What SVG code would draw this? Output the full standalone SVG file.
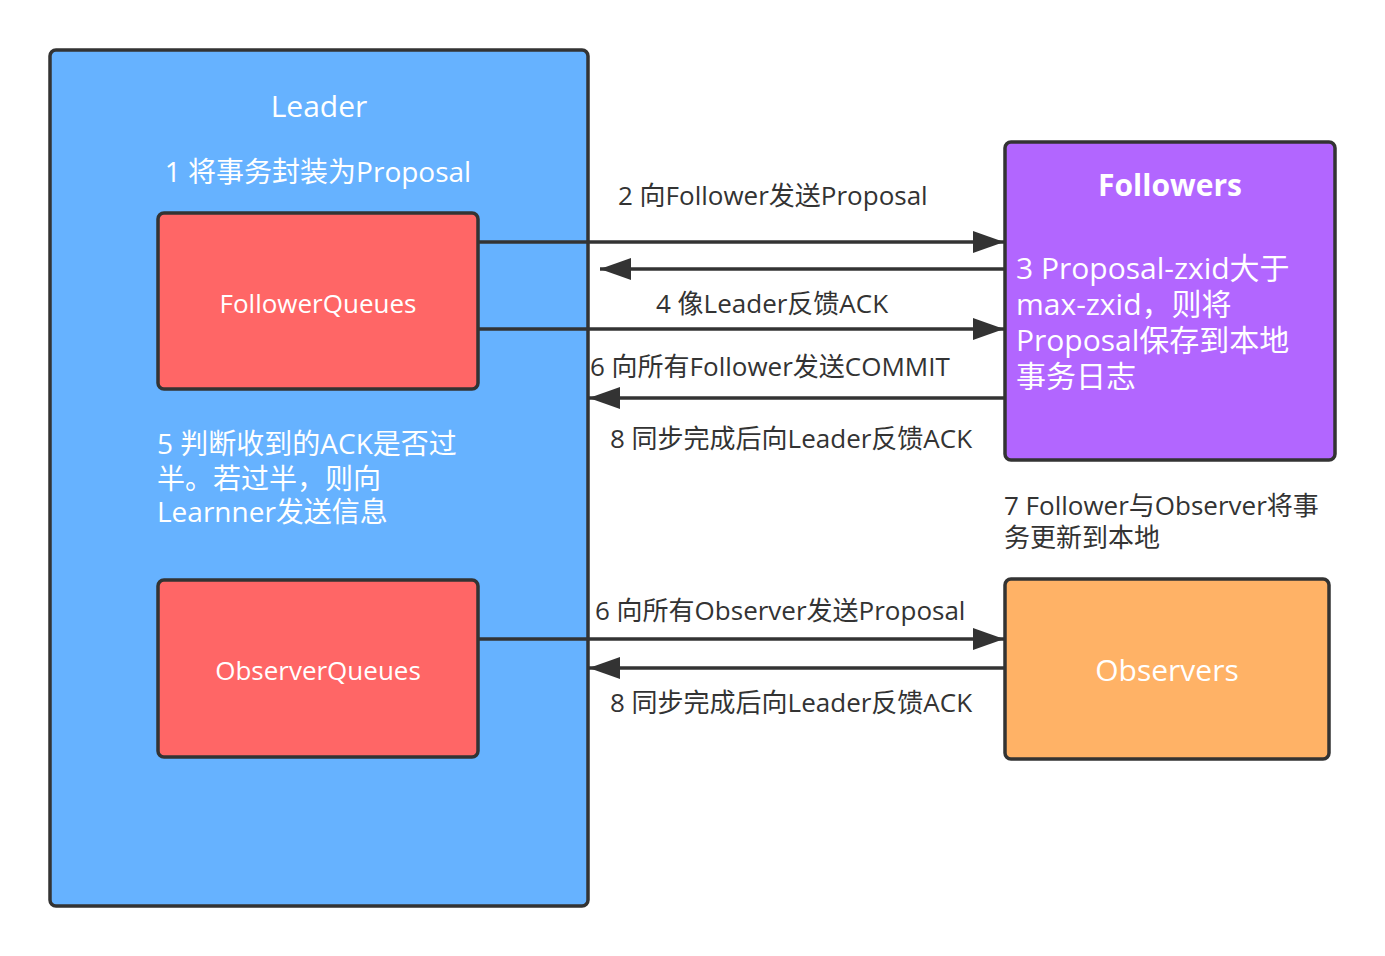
<svg xmlns="http://www.w3.org/2000/svg" width="1385" height="956" viewBox="0 0 1385 956">
<style>
text{font-family:"Open Sans","Noto Sans CJK SC",sans-serif}
.box{stroke:#333;stroke-width:3.5}
.w{fill:#fff}
.d{fill:#333;font-size:26px}
.edge{stroke:#333;stroke-width:3.5;fill:none}
</style>
<defs>
<marker id="ah" markerUnits="userSpaceOnUse" markerWidth="32" markerHeight="24" viewBox="0 0 32 24" refX="31" refY="12" orient="auto">
<path d="M0,1 L31,12 L0,23 Z" fill="#333"/>
</marker>
</defs>
<rect width="1385" height="956" fill="#fff"/>
<g id="leader">
<rect class="box" x="50" y="50" width="538" height="856" rx="6" fill="#66b2ff"/>
<text class="w" x="319" y="117" font-size="30" text-anchor="middle">Leader</text>
<text class="w" x="318" y="182" font-size="28" text-anchor="middle">1 将事务封装为Proposal</text>
<text class="w" font-size="28"><tspan x="157" y="454">5 判断收到的ACK是否过</tspan><tspan x="157" y="489">半。若过半，则向</tspan><tspan x="157" y="522">Learnner发送信息</tspan></text>
</g>
<g id="followerqueues">
<rect class="box" x="158" y="213" width="320" height="176" rx="6" fill="#ff6666"/>
<text class="w" x="318" y="313" font-size="26" text-anchor="middle">FollowerQueues</text>
</g>
<g id="observerqueues">
<rect class="box" x="158" y="580" width="320" height="177" rx="6" fill="#ff6666"/>
<text class="w" x="318" y="680" font-size="26" text-anchor="middle">ObserverQueues</text>
</g>
<g id="followers">
<rect class="box" x="1005" y="142" width="330" height="318" rx="6" fill="#b266ff"/>
<text class="w" x="1170" y="196" font-size="30" font-weight="bold" text-anchor="middle">Followers</text>
<text class="w" font-size="30"><tspan x="1016" y="279">3 Proposal-zxid大于</tspan><tspan x="1016" y="315">max-zxid，则将</tspan><tspan x="1016" y="351">Proposal保存到本地</tspan><tspan x="1016" y="387">事务日志</tspan></text>
</g>
<g id="observers">
<rect class="box" x="1005" y="579" width="324" height="180" rx="6" fill="#ffb266"/>
<text class="w" x="1167" y="681" font-size="30" text-anchor="middle">Observers</text>
</g>
<g id="connectors">
<line class="edge" x1="479" y1="242" x2="1004" y2="242" marker-end="url(#ah)"/>
<line class="edge" x1="1004" y1="269" x2="600" y2="269" marker-end="url(#ah)"/>
<line class="edge" x1="479" y1="329" x2="1004" y2="329" marker-end="url(#ah)"/>
<line class="edge" x1="1004" y1="398" x2="589" y2="398" marker-end="url(#ah)"/>
<line class="edge" x1="479" y1="639" x2="1004" y2="639" marker-end="url(#ah)"/>
<line class="edge" x1="1004" y1="668" x2="589" y2="668" marker-end="url(#ah)"/>
</g>
<g id="labels">
<text class="d" x="618" y="205">2 向Follower发送Proposal</text>
<text class="d" x="656" y="313">4 像Leader反馈ACK</text>
<text class="d" x="590" y="376">6 向所有Follower发送COMMIT</text>
<text class="d" x="610" y="448">8 同步完成后向Leader反馈ACK</text>
<text class="d"><tspan x="1004" y="515">7 Follower与Observer将事</tspan><tspan x="1004" y="547">务更新到本地</tspan></text>
<text class="d" x="595" y="620">6 向所有Observer发送Proposal</text>
<text class="d" x="610" y="712">8 同步完成后向Leader反馈ACK</text>
</g>
</svg>
